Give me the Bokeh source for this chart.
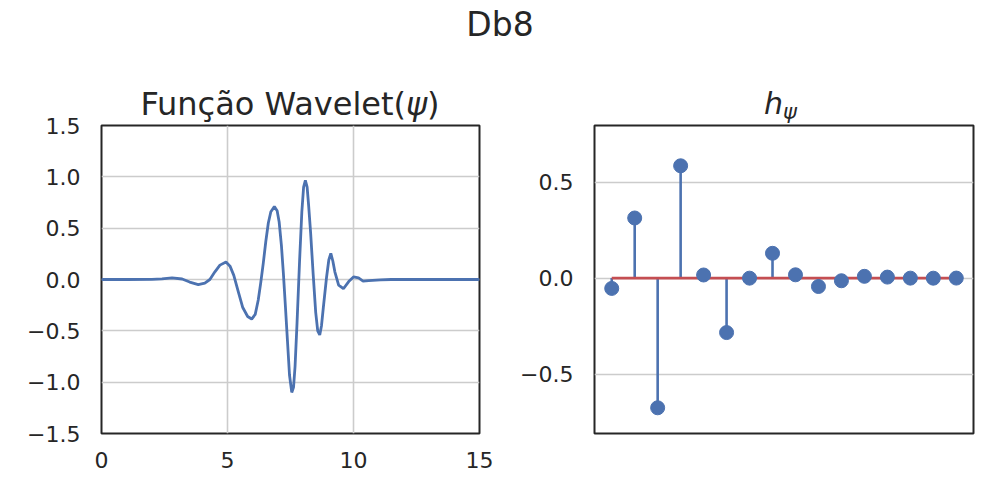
from bokeh.plotting import figure
from bokeh.models import Range1d, FixedTicker, CustomJSTickFormatter, Div
from bokeh.layouts import row, column
from bokeh.embed import file_html
from bokeh.resources import INLINE

# ---- data ----
main_title = "Db8"
left_title = "Função Wavelet(<i>ψ</i>)"
right_title = "<i>h</i><i style='font-size:21px; position:relative; top:5px'>ψ</i>"

psi_x = [0.0, 1.0, 2.0, 2.4, 2.8, 3.2, 3.5, 3.84, 4.1, 4.3, 4.5, 4.7, 4.94, 5.1,
         5.25, 5.43, 5.6, 5.8, 5.96, 6.1, 6.22, 6.32, 6.42, 6.52, 6.62, 6.72,
         6.86, 6.97, 7.05, 7.14, 7.22, 7.30, 7.38, 7.46, 7.55, 7.62, 7.68, 7.76,
         7.86, 7.95, 8.02, 8.09, 8.16, 8.22, 8.30, 8.40, 8.50, 8.58, 8.66, 8.73,
         8.80, 8.93, 9.02, 9.10, 9.18, 9.26, 9.41, 9.60, 9.81, 10.0, 10.2, 10.38,
         10.6, 11.07, 11.5, 15.0]
psi_y = [0.0, 0.0, 0.001, 0.006, 0.015, 0.005, -0.025, -0.05, -0.035, 0.0, 0.075,
         0.14, 0.17, 0.13, 0.04, -0.12, -0.27, -0.36, -0.385, -0.34, -0.2, -0.03,
         0.16, 0.37, 0.55, 0.66, 0.71, 0.67, 0.56, 0.33, 0.05, -0.27, -0.6, -0.93,
         -1.10, -1.05, -0.85, -0.42, 0.18, 0.66, 0.90, 0.965, 0.90, 0.72, 0.45,
         0.05, -0.32, -0.50, -0.54, -0.45, -0.28, 0.02, 0.19, 0.255, 0.18, 0.075,
         -0.055, -0.09, -0.02, 0.025, 0.015, -0.015, -0.01, -0.004, 0.0, 0.0]

h_index = list(range(16))
h_values = [-0.054, 0.313, -0.676, 0.585, 0.016, -0.284, -0.0005, 0.129,
            0.017, -0.044, -0.014, 0.009, 0.005, -0.0004, -0.0007, -0.0001]

left_xticks = [0, 5, 10, 15]
left_yticks = [-1.5, -1.0, -0.5, 0.0, 0.5, 1.0, 1.5]
right_yticks = [-0.5, 0.0, 0.5]

# ---- style ----
FONT = "DejaVu Sans"
TXT = "#262626"
BLUE = "#4c72b0"
RED = "#c44e52"
GRID = "#cccccc"

minus_fmt = CustomJSTickFormatter(code="return tick.toFixed(1).replace('-', '\u2212');")


def style(p):
    p.outline_line_color = TXT
    p.outline_line_width = 2
    p.background_fill_color = "white"
    p.border_fill_color = None
    for ax in p.axis:
        ax.axis_line_color = None
        ax.major_tick_line_color = None
        ax.minor_tick_line_color = None
        ax.major_label_text_font = FONT
        ax.major_label_text_font_size = "22px"
        ax.major_label_text_color = TXT
    p.xaxis.major_label_standoff = 12
    p.yaxis.major_label_standoff = 15
    for g in p.grid:
        g.grid_line_color = GRID
        g.grid_line_width = 1.6


def text_div(html, width, height, pad_top, left, inner_w, size, lh):
    style_txt = (f"font-family:'{FONT}'; font-size:{size}px; line-height:{lh}px; "
                 f"color:{TXT}; text-align:center; white-space:nowrap; "
                 f"margin-left:{left}px; width:{inner_w}px; padding-top:{pad_top}px; "
                 f"position:relative; z-index:5;")
    return Div(text=f"<div style=\"{style_txt}\">{html}</div>", width=width,
               height=height, margin=0, styles={"overflow": "visible"})


# ---- left: wavelet function ----
p1 = figure(frame_width=378, frame_height=308, min_border_left=101, min_border_right=38,
            min_border_top=17, min_border_bottom=59, x_range=Range1d(0, 15),
            y_range=Range1d(-1.5, 1.5), output_backend="svg", toolbar_location=None)
style(p1)
p1.xaxis.ticker = FixedTicker(ticks=left_xticks)
p1.yaxis.ticker = FixedTicker(ticks=left_yticks)
p1.yaxis.formatter = minus_fmt
p1.line(psi_x, psi_y, line_color=BLUE, line_width=2.8)

# ---- right: filter coefficients (stem) ----
p2 = figure(frame_width=379, frame_height=308, min_border_left=74, min_border_right=19,
            min_border_top=17, min_border_bottom=59, x_range=Range1d(-0.75, 15.75),
            y_range=Range1d(-0.81, 0.795), output_backend="svg", toolbar_location=None)
style(p2)
p2.xaxis.visible = False
p2.xgrid.visible = False
p2.yaxis.ticker = FixedTicker(ticks=right_yticks)
p2.yaxis.formatter = minus_fmt
p2.segment(x0=h_index, y0=[0] * len(h_index), x1=h_index, y1=h_values,
           line_color=BLUE, line_width=2.6)
p2.line([h_index[0], h_index[-1]], [0, 0], line_color=RED, line_width=2.8)
p2.scatter(h_index, h_values, size=14, fill_color=BLUE, line_color=BLUE)

title = text_div(main_title, 990, 60, 5, 5, 990, 33, 40)
t1 = text_div(left_title, 517, 48, 29, 101, 378, 32, 30)
t2 = text_div(right_title, 472, 48, 29, 74, 379, 30, 30)

layout = column(title, row(column(t1, p1, spacing=0), column(t2, p2, spacing=0), spacing=0),
                spacing=0)

open("out.html", "w").write(file_html(layout, INLINE, title="Db8"))
